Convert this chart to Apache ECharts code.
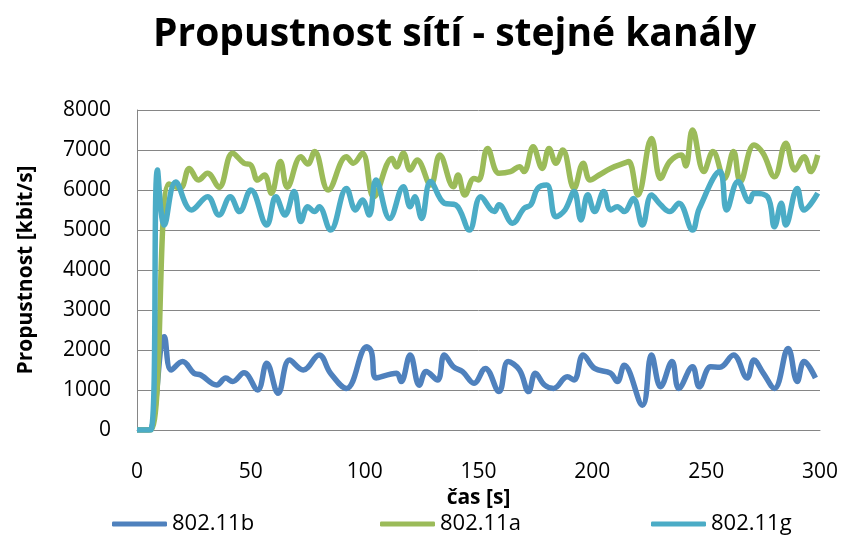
<!DOCTYPE html>
<html>
<head>
<meta charset="utf-8">
<script src="https://cdn.jsdelivr.net/npm/echarts@6/dist/echarts.min.js"></script>
<style>
  html, body { margin: 0; padding: 0; background: #fff; }
  #chart { width: 843px; height: 536px; }
</style>
</head>
<body>
<div id="chart"></div>
<script>
// 802.11b
const timesB = [0, 5, 12, 15, 20, 25, 28, 35, 39, 42, 47, 53, 57, 62, 67, 73, 80, 85, 92, 101, 103, 105, 114, 116, 120, 124, 127, 132, 135, 139, 143, 148, 153, 159, 163, 168, 172, 175, 179, 183, 189, 192, 196, 201, 208, 211, 214, 222, 226, 230, 235, 238, 244, 247, 252, 256, 262, 268, 271, 275, 280, 286, 290, 293, 298];
const valuesB = [0, 0, 2330, 1500, 1710, 1420, 1375, 1125, 1300, 1210, 1430, 1000, 1670, 920, 1750, 1500, 1875, 1420, 1040, 2080, 1950, 1300, 1420, 1210, 1875, 1120, 1460, 1250, 1875, 1580, 1460, 1170, 1540, 960, 1710, 1500, 960, 1420, 1125, 1040, 1330, 1250, 1875, 1540, 1420, 1210, 1620, 620, 1875, 1080, 1710, 1040, 1580, 1080, 1580, 1570, 1875, 1300, 1750, 1430, 1040, 2040, 1210, 1710, 1300];

// 802.11a
const timesA = [0, 6, 14, 19, 23, 27, 31, 36, 42, 47, 50, 53, 56, 59, 63, 66, 72, 75, 78, 84, 92, 95, 99, 104, 112, 114, 117, 120, 123, 129, 133, 139, 141, 144, 148, 150, 154, 159, 164, 168, 170, 174, 178, 181, 184, 187, 192, 196, 199, 203, 208, 214, 216, 220, 226, 230, 234, 239, 241, 244, 249, 253, 258, 262, 265, 271, 275, 280, 285, 289, 293, 296, 299];
const valuesA = [0, 0, 6150, 6050, 6540, 6250, 6420, 6070, 6920, 6670, 6625, 6250, 6375, 5920, 6710, 6070, 6830, 6650, 6960, 6000, 6830, 6670, 6920, 5830, 6790, 6580, 6920, 6500, 6750, 6125, 6875, 6080, 6375, 5875, 6290, 6250, 7040, 6420, 6460, 6580, 6460, 7080, 6540, 7040, 6670, 7000, 6040, 6670, 6250, 6375, 6540, 6670, 6710, 5875, 7290, 6290, 6710, 6875, 6600, 7500, 6460, 6960, 6290, 6960, 6210, 7125, 6920, 6330, 7170, 6500, 6830, 6460, 6875];

// 802.11g
const timesG = [0, 6, 9, 12, 17, 24, 31, 36, 41, 45, 50, 57, 61, 65, 69, 72, 75, 78, 80, 85, 92, 96, 99, 102, 105, 111, 117, 120, 122, 125, 129, 135, 140, 146, 151, 157, 159, 165, 170, 173, 176, 180, 184, 188, 192, 195, 198, 201, 205, 208, 211, 214, 218, 222, 226, 230, 234, 238, 244, 247, 256, 259, 264, 269, 271, 277, 280, 283, 285, 290, 293, 299];
const valuesG = [0, 0, 6500, 5125, 6200, 5500, 5830, 5375, 5830, 5460, 6000, 5125, 5830, 5375, 5960, 5210, 5580, 5460, 5580, 5000, 6040, 5500, 5750, 5375, 6250, 5290, 6080, 5580, 5830, 5290, 6210, 5670, 5630, 5000, 5830, 5460, 5630, 5170, 5540, 5630, 6040, 6125, 5330, 5500, 5960, 5250, 5880, 5460, 5960, 5500, 5580, 5460, 5790, 5125, 5875, 5630, 5460, 5670, 5000, 5540, 6460, 5500, 6210, 5710, 5920, 5830, 5080, 5670, 5125, 6040, 5500, 5920];

const seriesNames = ['802.11b', '802.11a', '802.11g'];
const xTicks = [0, 50, 100, 150, 200, 250, 300];
const yTicks = [0, 1000, 2000, 3000, 4000, 5000, 6000, 7000, 8000];

function pairs(ts, vs) {
    return ts.map((t, i) => [t, vs[i]]);
}

const font = '"Open Sans", sans-serif';
const colors = ['#4F81BD', '#9BBB59', '#4BACC6'];
const legendLeft = [107, 375, 646];

const option = {
    animation: false,
    title: {
        text: 'Propustnost sítí - stejné kanály',
        left: 148,
        top: 10,
        textStyle: { fontFamily: font, fontSize: 39, fontWeight: 'bold', color: '#000' }
    },
    legend: seriesNames.map((n, i) => ({
        data: [n],
        left: legendLeft[i],
        top: 508,
        icon: 'roundRect',
        itemWidth: 55,
        itemHeight: 5,
        itemGap: 4,
        textStyle: { fontFamily: font, fontSize: 22, color: '#000' }
    })),
    grid: {
        left: 137,
        right: 23,
        top: 110,
        bottom: 106
    },
    xAxis: {
        type: 'value',
        min: xTicks[0],
        max: xTicks[xTicks.length - 1],
        interval: 50,
        name: 'čas [s]',
        nameLocation: 'middle',
        nameGap: 55,
        nameTextStyle: { fontFamily: font, fontSize: 21, fontWeight: 'bold', color: '#000' },
        axisLine: { show: true, lineStyle: { color: '#868686', width: 1 } },
        axisTick: { show: false },
        splitLine: { show: false },
        axisLabel: { fontFamily: font, fontSize: 21, color: '#000', margin: 32 }
    },
    yAxis: {
        type: 'value',
        min: yTicks[0],
        max: yTicks[yTicks.length - 1],
        interval: 1000,
        name: 'Propustnost [kbit/s]',
        nameLocation: 'middle',
        nameGap: 100,
        nameTextStyle: { fontFamily: font, fontSize: 21, fontWeight: 'bold', color: '#000' },
        axisLine: { show: true, lineStyle: { color: '#868686', width: 1 } },
        axisTick: { show: false },
        splitLine: { lineStyle: { color: '#868686', width: 1 } },
        axisLabel: {
            fontFamily: font, fontSize: 21, color: '#000', margin: 26,
            formatter: function (v) { return String(v); }
        }
    },
    series: [
        [timesB, valuesB],
        [timesA, valuesA],
        [timesG, valuesG]
    ].map((d, i) => ({
        name: seriesNames[i],
        type: 'line',
        smooth: 0.4,
        symbol: 'none',
        color: colors[i],
        lineStyle: { width: 5.5, color: colors[i] },
        data: pairs(d[0], d[1])
    }))
};

const chart = echarts.init(document.getElementById('chart'));
chart.setOption(option);
window.addEventListener('resize', function () {
    chart.resize();
});
</script>
</body>
</html>
